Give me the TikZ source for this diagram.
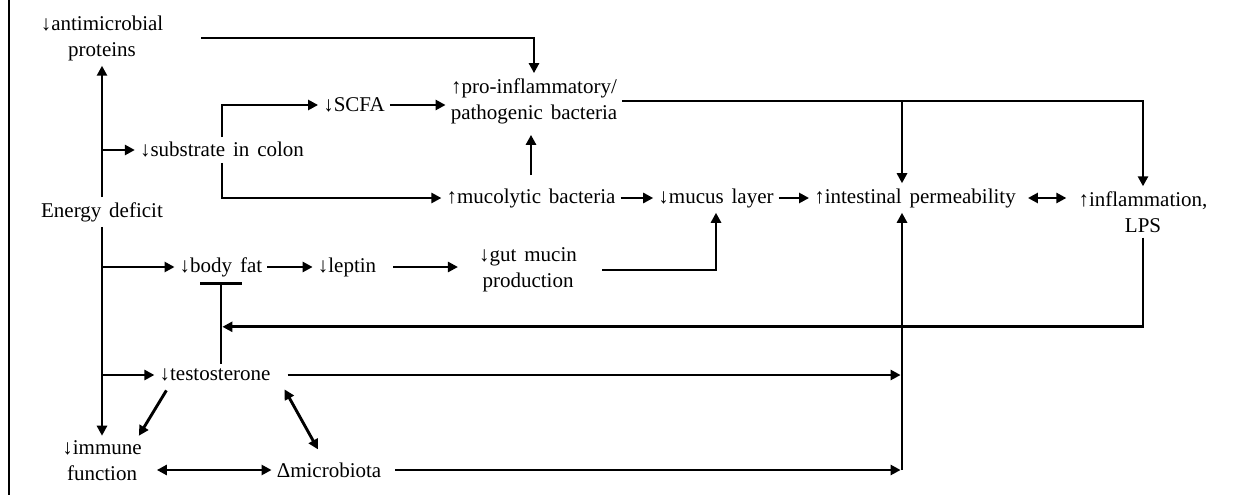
\documentclass[tikz,border=0pt]{standalone}
\usepackage{fontspec}
\setmainfont{Liberation Serif}[WordSpace=1.5]
\usetikzlibrary{arrows.meta}

\begin{document}
\begin{tikzpicture}[x=1pt,y=-1pt,
    lbl/.style={inner sep=5pt, align=center, font=\fontsize{21}{26}\selectfont},
    arr/.style={arrows={-Triangle[length=10pt,width=10pt]}, line width=2.9pt},
    dbl/.style={arrows={Triangle[length=10pt,width=10pt]-Triangle[length=10pt,width=10pt]}, line width=2.9pt},
    inh/.style={arrows={-Bar[width=42pt]}, line width=2.9pt}]
    \useasboundingbox (0,0) rectangle (1234,495);

    % left frame
    \draw[line width=1.2pt] (9,0) -- (9,495);

    % upper part
    \node[lbl] (amp) at (102,38) {↓antimicrobial\\proteins};
    \node[lbl] (energy) at (102,212) {Energy deficit};
    \node[lbl] (substrate) at (222,150) {↓substrate in colon};
    \node[lbl] (scfa) at (354,105) {↓SCFA};
    \node[lbl] (patho) at (534,101) {↑pro-inflammatory/\\pathogenic bacteria};
    \node[lbl] (muco) at (531,198) {↑mucolytic bacteria};
    \node[lbl] (mucus) at (716,198) {↓mucus layer};
    \node[lbl] (perm) at (915,198) {↑intestinal permeability};
    \node[lbl] (infl) at (1143,212) {↑inflammation,\\LPS};

    % lower part
    \node[lbl] (bodyfat) at (221,267) {↓body fat};
    \node[lbl] (leptin) at (347,267) {↓leptin};
    \node[lbl] (gut) at (528,270) {↓gut mucin\\production};
    \node[lbl] (testo) at (215,375) {↓testosterone};
    \node[lbl] (immune) at (102,461) {↓immune\\function};
    \node[lbl] (micro) at (329,470) {Δmicrobiota};

    % junction on the line into permeability
    \coordinate (jtop) at (902,101);

    % from energy deficit
    \draw[arr] (energy) -- (amp);
    \draw[arr] (energy) -- (immune);
    \draw[arr] (energy |- substrate) -- (substrate);
    \draw[arr] (energy |- bodyfat) -- (bodyfat);
    \draw[arr] (energy |- testo) -- (testo);

    % colon branch
    \draw[arr] (substrate.north) |- (scfa);
    \draw[arr] (substrate.south) |- (muco);
    \draw[arr] (scfa.east) -- (scfa.east -| patho.west);
    \draw[arr] ([xshift=33pt]amp.east) -| (patho);
    \draw[arr, shorten <=8pt, shorten >=6pt] (muco.north) -- (muco.north |- patho.south);
    \draw[arr] (muco) -- (mucus);
    \draw[arr] (mucus) -- (perm);
    \draw[dbl, shorten <=7pt, shorten >=7pt] (perm.east) -- (perm.east -| infl.west);
    \draw[arr] (patho.east) -| (infl);
    \draw[arr] (jtop) -- (jtop |- perm.north);

    % body fat and leptin
    \draw[arr] (bodyfat) -- (leptin);
    \draw[arr, shorten <=12pt, shorten >=16pt] (leptin.east) -- (leptin.east -| gut.west);
    \draw[arr] ([xshift=20pt]gut.east) -| (mucus.south);

    % testosterone
    \draw[inh] (testo.north -| bodyfat) -- (bodyfat.south);
    \path (bodyfat.south) -- (testo.north -| bodyfat) coordinate[pos=0.55] (jinh);
    \draw[arr, shorten >=1.4pt] (infl) |- (jinh);
    \draw[arr, shorten >=1.4pt] ([xshift=12pt]testo.east) -- (testo.east -| jtop);
    \draw[arr, shorten >=1.4pt] ([xshift=9pt]micro.east) -- (micro.east -| jtop);
    \draw[arr] (micro.east -| jtop) -- (jtop |- perm.south);
    \draw[arr] ([xshift=12pt,yshift=-4pt]testo.south west) -- ([xshift=-8pt]immune.north east);
    \draw[dbl] ([xshift=9pt,yshift=-3pt]testo.south east) -- ([xshift=-11pt,yshift=8pt]micro.north);
    \draw[dbl, shorten <=10pt] (immune.east |- micro) -- (micro);
\end{tikzpicture}
\end{document}
